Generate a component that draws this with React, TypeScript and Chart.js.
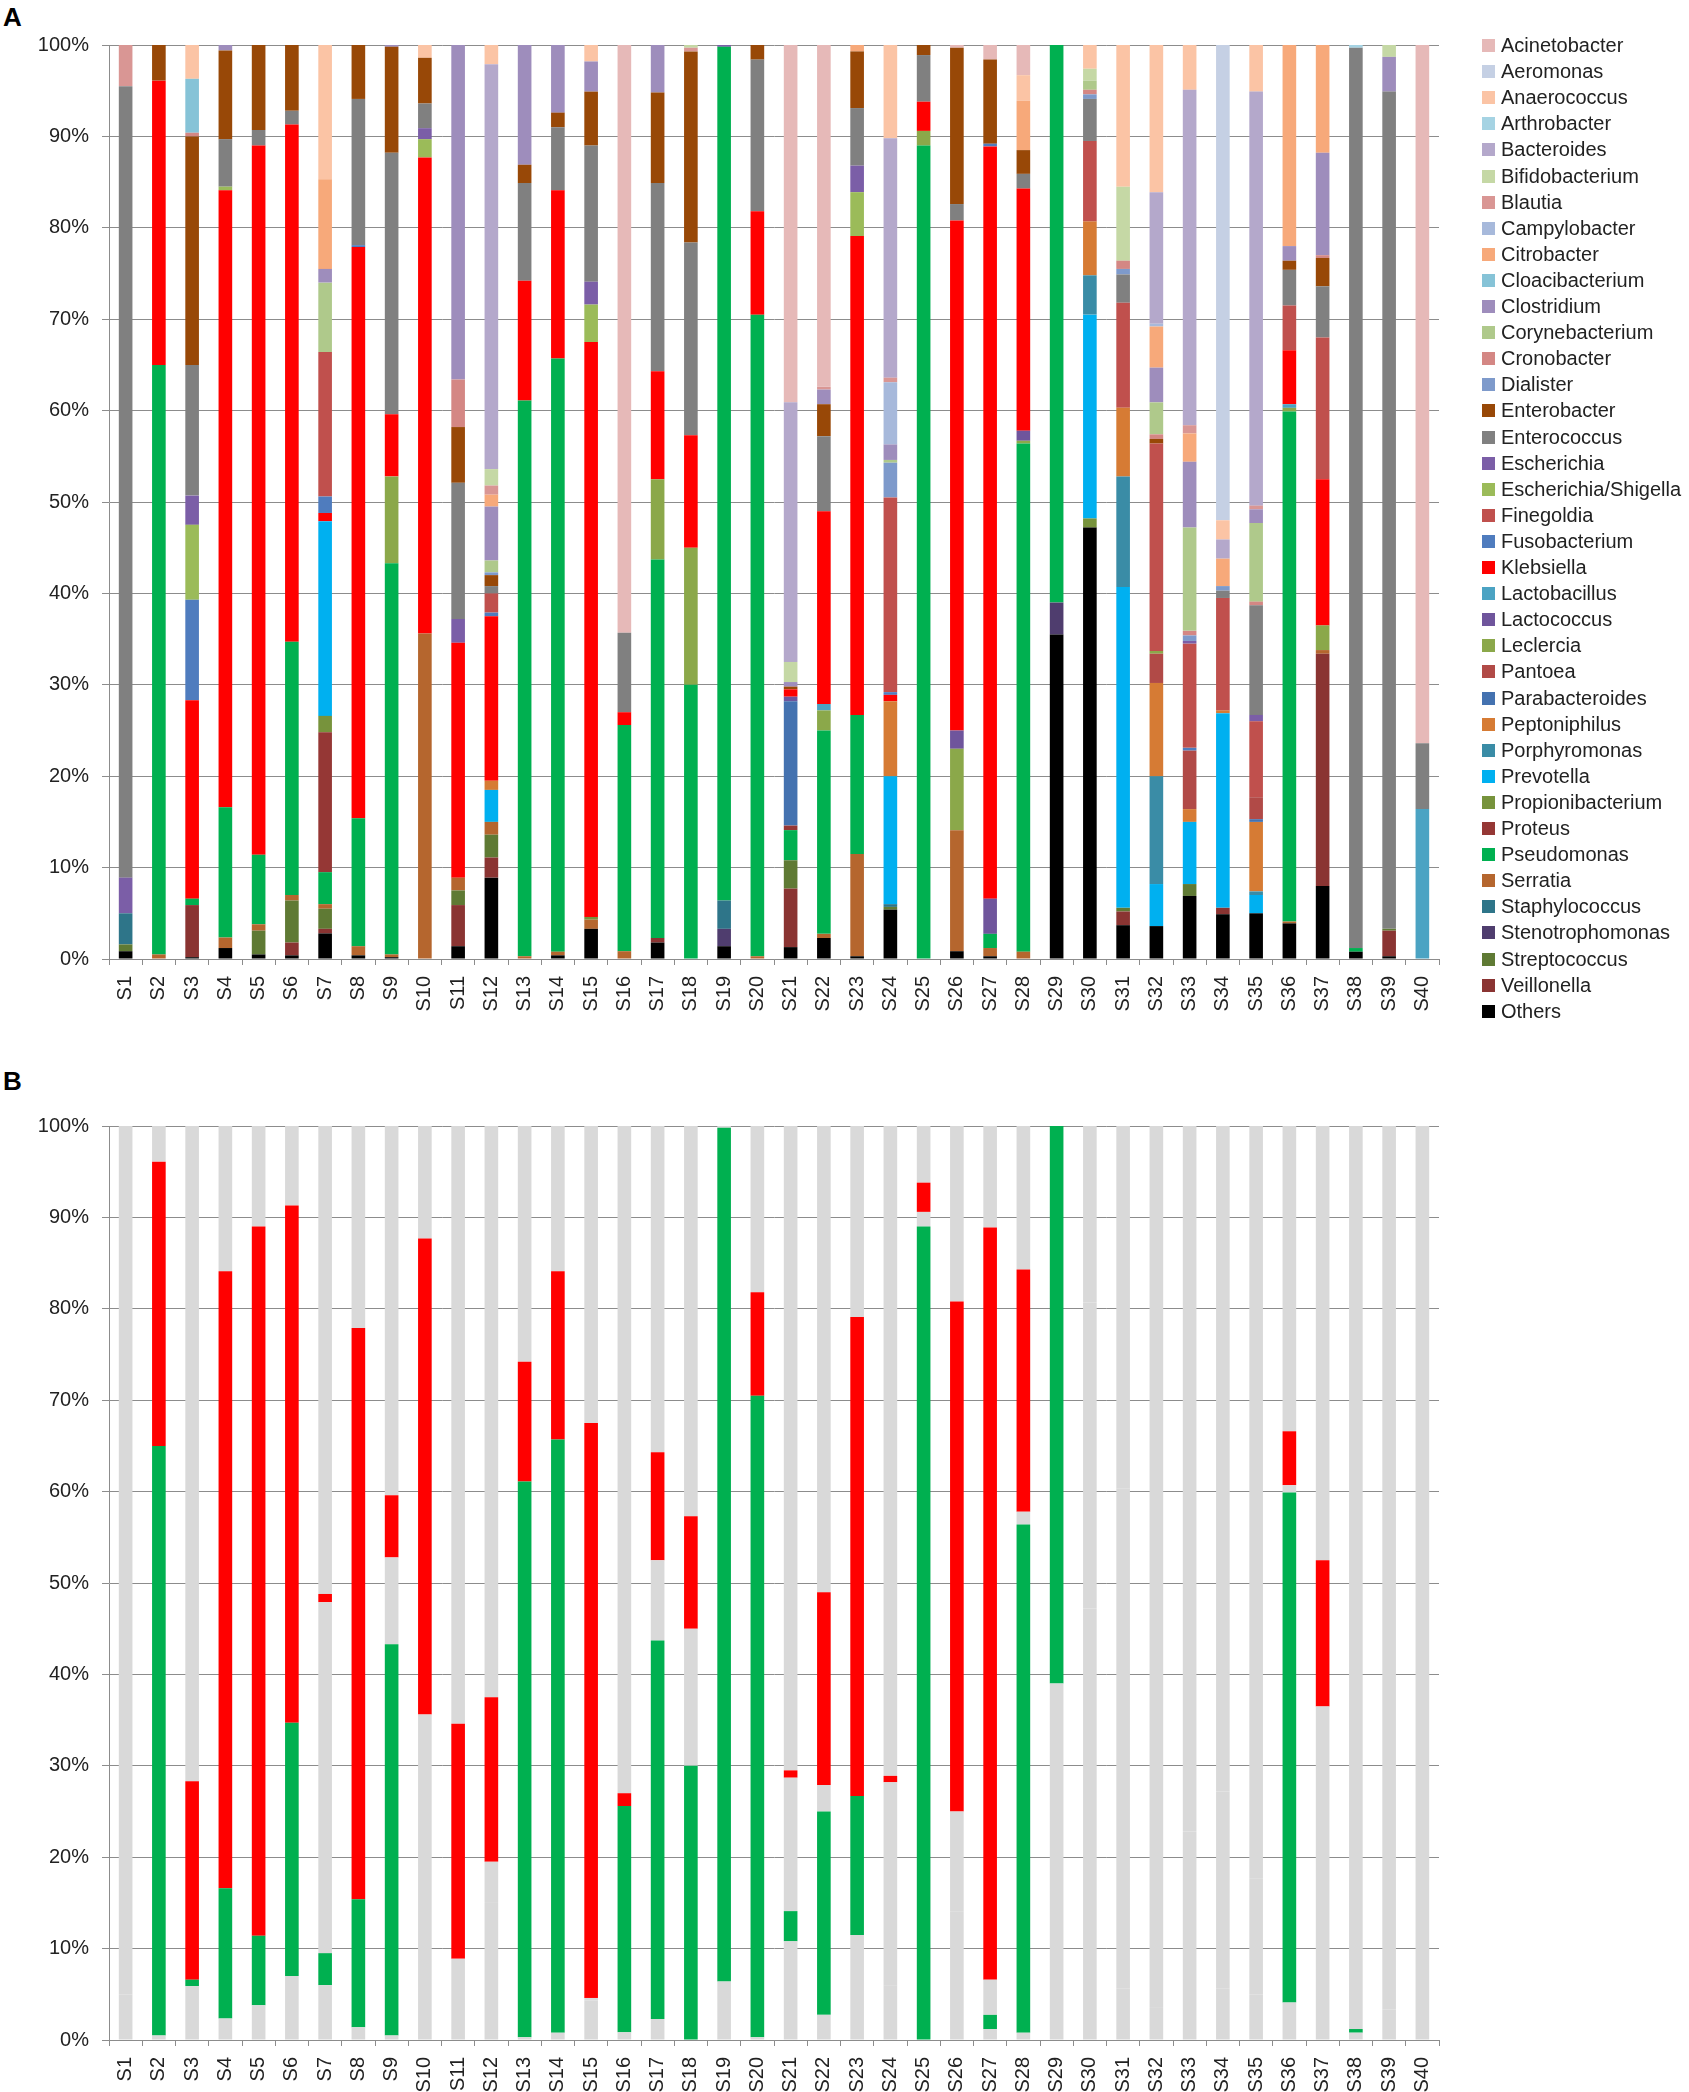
import React, { useEffect, useRef } from "react";
import Chart from "chart.js/auto";

// samples S1..S40
const samples = [
  "S1", "S2", "S3", "S4", "S5", "S6", "S7", "S8", "S9", "S10",
  "S11", "S12", "S13", "S14", "S15", "S16", "S17", "S18", "S19", "S20",
  "S21", "S22", "S23", "S24", "S25", "S26", "S27", "S28", "S29", "S30",
  "S31", "S32", "S33", "S34", "S35", "S36", "S37", "S38", "S39", "S40",
];

const yTicks = [0, 10, 20, 30, 40, 50, 60, 70, 80, 90, 100];

// relative abundance (%) per genus, bottom of the stack first
const others = [0.85, 0, 0.2, 1.2, 0.5, 0.4, 2.8, 0.4, 0.2, 0, 1.4, 8.9, 0, 0.4, 3.3, 0, 1.8, 0, 1.4, 0, 1.3, 2.3, 0.3, 5.4, 0, 0.85, 0.3, 0, 35.5, 47.2, 3.7, 3.6, 6.9, 4.9, 5.0, 3.9, 8.0, 0.8, 0.3, 0];
const veillonella = [0, 0, 5.7, 0, 0, 1.4, 0.5, 0, 0, 0, 4.5, 2.2, 0, 0, 0, 0, 0.5, 0, 0, 0, 6.4, 0, 0, 0, 0, 0, 0, 0, 0, 0, 1.5, 0, 0, 0.7, 0, 0, 25.4, 0, 2.8, 0];
const streptococcus = [0.75, 0, 0, 0, 2.6, 4.6, 2.2, 0, 0, 0, 1.6, 2.5, 0, 0, 0, 0, 0, 0, 0, 0, 3.1, 0, 0, 0.3, 0, 0, 0, 0, 0, 0, 0.4, 0, 1.3, 0, 0, 0, 0, 0, 0.2, 0];
const stenotrophomonas = [0, 0, 0, 0, 0, 0, 0, 0, 0, 0, 0, 0, 0, 0, 0, 0, 0, 0, 1.9, 0, 0, 0, 0, 0, 0, 0, 0, 0, 3.5, 0, 0, 0, 0, 0, 0, 0, 0, 0, 0, 0];
const staphylococcus = [3.4, 0, 0, 0, 0, 0, 0, 0, 0, 0, 0, 0, 0, 0, 0, 0, 0, 0, 3.1, 0, 0, 0, 0, 0.3, 0, 0, 0, 0, 0, 0, 0, 0, 0, 0, 0, 0, 0, 0, 0, 0];
const serratia = [0, 0.5, 0, 1.15, 0.7, 0.6, 0.5, 1.0, 0.3, 35.6, 1.4, 1.4, 0.3, 0.4, 1.0, 0.85, 0, 0, 0, 0.3, 0, 0.45, 11.2, 0, 0, 13.25, 0.9, 0.8, 0, 0, 0, 0, 0, 0, 0, 0.2, 0.4, 0, 0, 0];
const pseudomonas = [0, 64.5, 0.7, 14.25, 7.6, 27.7, 3.5, 14.0, 42.8, 0, 0, 0, 60.8, 64.9, 0, 24.75, 41.4, 30.0, 93.4, 70.2, 3.3, 22.25, 15.2, 0, 89.0, 0, 1.55, 55.6, 61.0, 0, 0, 0, 0, 0, 0, 55.8, 0, 0.4, 0, 0];
const proteus = [0, 0, 0, 0, 0, 0, 15.3, 0, 0, 0, 0, 0, 0, 0, 0, 0, 0, 0, 0, 0, 0.5, 0, 0, 0, 0, 0, 0, 0, 0, 0, 0, 0, 0, 0, 0, 0, 0, 0, 0, 0];
const propionibacterium = [0, 0, 0, 0, 0, 0, 1.8, 0, 0, 0, 0, 0, 0, 0, 0.3, 0, 0, 0, 0, 0, 0, 0, 0, 0, 0, 0, 0, 0, 0, 1.0, 0, 0, 0, 0, 0, 0, 0, 0, 0, 0];
const prevotella = [0, 0, 0, 0, 0, 0, 21.3, 0, 0, 0, 0, 3.5, 0, 0, 0, 0, 0, 0, 0, 0, 0, 0, 0, 14.0, 0, 0, 0, 0, 0, 22.3, 35.1, 4.6, 6.8, 21.3, 2.0, 0, 0, 0, 0, 0];
const porphyromonas = [0, 0, 0, 0, 0, 0, 0, 0, 0, 0, 0, 0, 0, 0, 0, 0, 0, 0, 0, 0, 0, 0, 0, 0, 0, 0, 0, 0, 0, 4.3, 12.1, 11.8, 0, 0, 0.4, 0, 0, 0, 0, 0];
const peptoniphilus = [0, 0, 0, 0, 0, 0, 0, 0, 0, 0, 0, 1.0, 0, 0, 0, 0, 0, 0, 0, 0, 0, 0, 0, 8.2, 0, 0, 0, 0, 0, 5.9, 7.5, 10.2, 1.4, 0.3, 7.6, 0, 0, 0, 0, 0];
const parabacteroides = [0, 0, 0, 0, 0, 0, 0, 0, 0, 0, 0, 0, 0, 0, 0, 0, 0, 0, 0, 0, 13.6, 0, 0, 0, 0, 0, 0, 0, 0, 0, 0, 0, 0, 0, 0.3, 0, 0, 0, 0, 0];
const pantoea = [0, 0, 0, 0, 0, 0, 0, 0, 0, 0, 0, 0, 0, 0, 0, 0, 0, 0, 0, 0, 0, 0, 0, 0, 0, 0, 0, 0, 0, 0, 0, 3.2, 6.4, 0, 2.4, 0, 0, 0, 0, 0];
const leclercia = [0, 0, 0, 0, 0, 0, 0, 0, 9.5, 0, 0, 0, 0, 0, 0, 0, 8.8, 15.0, 0, 0, 0, 2.2, 0, 0, 1.6, 8.9, 0, 0.3, 0, 0, 0, 0.3, 0, 0, 0, 0.4, 2.7, 0, 0, 0];
const lactococcus = [0, 0, 0, 0, 0, 0, 0, 0, 0, 0, 0, 0, 0, 0, 0, 0, 0, 0, 0, 0, 0.5, 0, 0, 0, 0, 2.0, 3.85, 1.1, 0, 0, 0, 0, 0, 0, 0, 0, 0, 0, 0, 0];
const lactobacillus = [0, 0, 0, 0, 0, 0, 0, 0, 0, 0, 0, 0, 0, 0, 0, 0, 0, 0, 0, 0, 0, 0.7, 0, 0, 0, 0, 0, 0, 0, 0, 0, 0, 0, 0, 0, 0.4, 0, 0, 0, 16.4];
const klebsiella = [0, 31.1, 21.7, 67.5, 77.6, 56.6, 0.9, 62.5, 6.8, 52.1, 25.7, 18.0, 13.1, 18.4, 62.9, 1.4, 11.8, 12.3, 0, 11.3, 0.8, 21.1, 52.4, 0.7, 3.2, 55.8, 82.3, 26.5, 0, 0, 0, 0, 0, 0, 0, 5.9, 16.0, 0, 0, 0];
const fusobacterium = [0, 0, 11.0, 0, 0, 0, 1.8, 0.2, 0, 0, 0, 0.4, 0, 0, 0, 0, 0, 0, 0, 0, 0, 0, 0, 0.3, 0, 0, 0.3, 0, 0, 0, 0, 0, 0.3, 0, 0, 0, 0, 0, 0, 0];
const finegoldia = [0, 0, 0, 0, 0, 0, 15.8, 0, 0, 0, 0, 2.1, 0, 0, 0, 0, 0, 0, 0, 0, 0, 0, 0, 21.3, 0, 0, 0, 0, 0, 8.8, 11.5, 22.7, 11.4, 12.3, 8.3, 4.9, 15.5, 0, 0, 0];
const escherichiaShigella = [0, 0, 8.2, 0.4, 0, 0, 0, 0, 0, 2.0, 0, 0, 0, 0, 4.1, 0, 0, 0, 0, 0, 0, 0, 4.8, 0, 0, 0, 0, 0, 0, 0, 0, 0, 0, 0, 0, 0, 0, 0, 0, 0];
const escherichia = [3.9, 0, 3.2, 0, 0, 0, 0, 0, 0, 1.2, 2.6, 0, 0, 0, 2.5, 0, 0, 0, 0.2, 0, 0, 0, 2.9, 0, 0, 0, 0, 0, 0, 0, 0, 0, 0.3, 0, 0.7, 0, 0, 0, 0, 0];
const enterococcus = [86.6, 0, 14.3, 5.2, 1.7, 1.5, 0, 16.0, 28.6, 2.7, 14.9, 0.8, 10.7, 6.9, 14.9, 8.7, 20.6, 21.1, 0, 16.6, 0, 8.2, 6.3, 0, 5.1, 1.8, 0, 1.6, 0, 4.6, 3.1, 0, 0, 0.8, 12.0, 3.9, 5.6, 98.5, 91.6, 7.2];
const enterobacter = [0, 3.9, 25.0, 9.7, 9.3, 7.2, 0, 5.9, 11.6, 5.0, 6.1, 1.2, 2.0, 1.6, 5.9, 0, 9.9, 20.9, 0, 1.6, 0.3, 3.5, 6.2, 0, 1.1, 17.1, 9.2, 2.6, 0, 0, 0, 0.5, 0, 0, 0, 1.0, 3.1, 0, 0, 0];
const dialister = [0, 0, 0, 0, 0, 0, 0, 0, 0, 0, 0, 0.3, 0, 0, 0, 0, 0, 0, 0, 0, 0, 0, 0, 3.8, 0, 0, 0, 0, 0, 0.5, 0.6, 0, 0.6, 0.5, 0, 0, 0, 0, 0, 0];
const cronobacter = [0, 0, 0.4, 0, 0, 0, 0, 0, 0, 0, 5.2, 0, 0, 0, 0, 0, 0, 0, 0, 0, 0, 0, 0, 0, 0, 0, 0, 0, 0, 0.5, 0.9, 0.5, 0.5, 0, 0.4, 0, 0.3, 0, 0, 0];
const corynebacterium = [0, 0, 0, 0, 0, 0, 7.6, 0, 0, 0, 0, 1.3, 0, 0, 0, 0, 0, 0, 0, 0, 0, 0, 0, 0.3, 0, 0, 0, 0, 0, 1.0, 0, 3.5, 11.3, 0, 8.6, 0, 0, 0, 0, 0];
const clostridium = [0, 0, 0, 0.6, 0, 0, 1.5, 0, 0.2, 0, 36.6, 5.9, 13.1, 7.4, 3.3, 0, 5.2, 0, 0, 0, 0.5, 1.6, 0, 1.7, 0, 0, 0, 0, 0, 0, 0, 3.8, 7.2, 0, 1.5, 1.6, 11.2, 0, 3.8, 0];
const cloacibacterium = [0, 0, 5.9, 0, 0, 0, 0, 0, 0, 0, 0, 0, 0, 0, 0, 0, 0, 0, 0, 0, 0, 0, 0, 0, 0, 0, 0, 0, 0, 0, 0, 0, 0, 0, 0, 0, 0, 0, 0, 0];
const citrobacter = [0, 0, 0, 0, 0, 0, 9.8, 0, 0, 0, 0, 1.3, 0, 0, 0, 0, 0, 0, 0, 0, 0, 0, 0.7, 0, 0, 0, 0, 5.4, 0, 0, 0, 4.5, 3.1, 3.0, 0, 22.0, 11.8, 0, 0, 0];
const campylobacter = [0, 0, 0, 0, 0, 0, 0, 0, 0, 0, 0, 0, 0, 0, 0, 0, 0, 0, 0, 0, 0, 0, 0, 6.8, 0, 0, 0, 0, 0, 0, 0, 0.3, 0, 0, 0, 0, 0, 0, 0, 0];
const blautia = [4.5, 0, 0, 0, 0, 0, 0, 0, 0, 0, 0, 1.0, 0, 0, 0, 0, 0, 0.4, 0, 0, 0, 0.3, 0, 0.5, 0, 0, 0, 0, 0, 0, 0, 0, 0.9, 0, 0.4, 0, 0, 0, 0, 0];
const bifidobacterium = [0, 0, 0, 0, 0, 0, 0, 0, 0, 0, 0, 1.8, 0, 0, 0, 0, 0, 0.3, 0, 0, 2.2, 0, 0, 0, 0, 0, 0, 0, 0, 1.3, 8.1, 0, 0, 0, 0, 0, 0, 0, 1.3, 0];
const bacteroides = [0, 0, 0, 0, 0, 0, 0, 0, 0, 0, 0, 44.3, 0, 0, 0, 0, 0, 0, 0, 0, 28.4, 0, 0, 26.2, 0, 0, 0, 0, 0, 0, 0, 14.4, 36.7, 2.1, 45.3, 0, 0, 0, 0, 0];
const arthrobacter = [0, 0, 0, 0, 0, 0, 0, 0, 0, 0, 0, 0, 0, 0, 0, 0, 0, 0, 0, 0, 0, 0, 0, 0, 0, 0, 0, 0, 0, 0, 0, 0, 0, 0, 0, 0, 0, 0.3, 0, 0];
const anaerococcus = [0, 0, 3.7, 0, 0, 0, 14.7, 0, 0, 1.4, 0, 2.1, 0, 0, 1.8, 0, 0, 0, 0, 0, 0, 0, 0, 10.2, 0, 0, 0, 2.8, 0, 2.6, 15.5, 16.1, 4.9, 2.1, 5.1, 0, 0, 0, 0, 0];
const aeromonas = [0, 0, 0, 0, 0, 0, 0, 0, 0, 0, 0, 0, 0, 0, 0, 0, 0, 0, 0, 0, 0, 0, 0, 0, 0, 0, 0, 0, 0, 0, 0, 0, 0, 52.0, 0, 0, 0, 0, 0, 0];
const acinetobacter = [0, 0, 0, 0, 0, 0, 0, 0, 0, 0, 0, 0, 0, 0, 0, 64.3, 0, 0, 0, 0, 39.1, 37.4, 0, 0, 0, 0.3, 1.6, 3.3, 0, 0, 0, 0, 0, 0, 0, 0, 0, 0, 0, 76.4];

// stack order (bottom -> top): name, values, colour
const genera: [string, number[], string][] = [
  ["Others", others, "#000000"],
  ["Veillonella", veillonella, "#8a3432"],
  ["Streptococcus", streptococcus, "#5f7a34"],
  ["Stenotrophomonas", stenotrophomonas, "#4f3d6e"],
  ["Staphylococcus", staphylococcus, "#2e7589"],
  ["Serratia", serratia, "#b5662e"],
  ["Pseudomonas", pseudomonas, "#00b050"],
  ["Proteus", proteus, "#953735"],
  ["Propionibacterium", propionibacterium, "#77933c"],
  ["Prevotella", prevotella, "#00b0f0"],
  ["Porphyromonas", porphyromonas, "#3a8ca6"],
  ["Peptoniphilus", peptoniphilus, "#d67b34"],
  ["Parabacteroides", parabacteroides, "#4472b0"],
  ["Pantoea", pantoea, "#b14a47"],
  ["Leclercia", leclercia, "#8ba84a"],
  ["Lactococcus", lactococcus, "#6f559c"],
  ["Lactobacillus", lactobacillus, "#4ba3c3"],
  ["Klebsiella", klebsiella, "#ff0000"],
  ["Fusobacterium", fusobacterium, "#4f7cbe"],
  ["Finegoldia", finegoldia, "#c0504d"],
  ["Escherichia/Shigella", escherichiaShigella, "#9bbb59"],
  ["Escherichia", escherichia, "#7b5ea7"],
  ["Enterococcus", enterococcus, "#808080"],
  ["Enterobacter", enterobacter, "#984807"],
  ["Dialister", dialister, "#7e9acb"],
  ["Cronobacter", cronobacter, "#d48784"],
  ["Corynebacterium", corynebacterium, "#afc98b"],
  ["Clostridium", clostridium, "#9e8dbc"],
  ["Cloacibacterium", cloacibacterium, "#86c3d7"],
  ["Citrobacter", citrobacter, "#f7a97a"],
  ["Campylobacter", campylobacter, "#a7b9db"],
  ["Blautia", blautia, "#d99694"],
  ["Bifidobacterium", bifidobacterium, "#c5d8a5"],
  ["Bacteroides", bacteroides, "#b4a8cb"],
  ["Arthrobacter", arthrobacter, "#a5d3e3"],
  ["Anaerococcus", anaerococcus, "#fbc4a5"],
  ["Aeromonas", aeromonas, "#c5d0e4"],
  ["Acinetobacter", acinetobacter, "#e6b9b8"],
];

const FONT = '"Liberation Sans", Arial, sans-serif';
const AXIS = "#8c8c8c";
const TEXT = "#222222";
const PLOT_LEFT = 109;
const PLOT_RIGHT = 1439;
const PAGE_W = 1689;

// panel B: genera below Pseudomonas, between Pseudomonas and Klebsiella, above Klebsiella
const iPseudo = genera.findIndex((g) => g[0] === "Pseudomonas");
const iKleb = genera.findIndex((g) => g[0] === "Klebsiella");
const sumRange = (from: number, to: number) =>
  samples.map((_, s) => genera.slice(from, to).reduce((acc, g) => acc + g[1][s], 0));
const restBelow = sumRange(0, iPseudo);
const restMiddle = sumRange(iPseudo + 1, iKleb);
const restAbove = sumRange(iKleb + 1, genera.length);

function makeOptions(padTop: number, xHeight: number): any {
  return {
    animation: false,
    responsive: false,
    layout: { padding: { top: padTop, right: PAGE_W - PLOT_RIGHT, bottom: 0, left: 0 } },
    plugins: { legend: { display: false }, tooltip: { enabled: false } },
    datasets: { bar: { barPercentage: 0.41, categoryPercentage: 1, borderWidth: 0 } },
    scales: {
      x: {
        stacked: true,
        grid: { display: true, drawOnChartArea: false, offset: true, tickLength: 6, color: AXIS },
        border: { color: AXIS },
        ticks: { minRotation: 90, maxRotation: 90, autoSkip: false, padding: 11, color: TEXT, font: { family: FONT, size: 20 } },
        afterFit: (s: any) => { s.height = xHeight; },
      },
      y: {
        stacked: true,
        min: 0,
        max: 100,
        afterBuildTicks: (s: any) => { s.ticks = yTicks.map((v) => ({ value: v })); },
        ticks: { padding: 13, color: TEXT, font: { family: FONT, size: 20 }, callback: (v: any) => v + "%" },
        grid: { color: AXIS, tickLength: 7 },
        border: { color: AXIS },
        afterFit: (s: any) => { s.width = PLOT_LEFT; },
      },
    },
  };
}

const App = () => {
  const refA = useRef<HTMLCanvasElement>(null);
  const refB = useRef<HTMLCanvasElement>(null);

  useEffect(() => {
    if (!refA.current) return;
    const chart = new Chart(refA.current, {
      type: "bar",
      data: {
        labels: samples,
        datasets: genera.map(([name, values, color]) => ({ label: name, data: values, backgroundColor: color })),
      },
      options: makeOptions(45, 81),
    });
    return () => chart.destroy();
  }, []);

  useEffect(() => {
    if (!refB.current) return;
    const chart = new Chart(refB.current, {
      type: "bar",
      data: {
        labels: samples,
        datasets: [
          { label: "Other", data: restBelow, backgroundColor: "#d9d9d9" },
          { label: "Pseudomonas", data: pseudomonas, backgroundColor: "#00b050" },
          { label: "Other", data: restMiddle, backgroundColor: "#d9d9d9" },
          { label: "Klebsiella", data: klebsiella, backgroundColor: "#ff0000" },
          { label: "Other", data: restAbove, backgroundColor: "#d9d9d9" },
        ],
      },
      options: makeOptions(86, 52),
    });
    return () => chart.destroy();
  }, []);

  const legendItems = [...genera].reverse();

  return (
    <div style={{ position: "absolute", left: 0, top: 0, width: PAGE_W, height: 2092, background: "#fff", overflow: "hidden", fontFamily: FONT }}>
      <div style={{ position: "absolute", left: 3, top: 2, fontSize: 26, fontWeight: "bold" }}>A</div>
      <canvas ref={refA} width={PAGE_W} height={1040} style={{ position: "absolute", left: 0, top: 0 }} />
      {legendItems.map(([name, , color], i) => (
        <div key={name} style={{ position: "absolute", left: 1482, top: 45.5 + i * 26.1 - 13, height: 26, display: "flex", alignItems: "center", fontSize: 20, color: TEXT, whiteSpace: "nowrap" }}>
          <span style={{ display: "inline-block", width: 13, height: 13, background: color, marginRight: 6 }} />
          {name}
        </div>
      ))}
      <div style={{ position: "absolute", left: 3, top: 1066, fontSize: 26, fontWeight: "bold" }}>B</div>
      <canvas ref={refB} width={PAGE_W} height={1052} style={{ position: "absolute", left: 0, top: 1040 }} />
    </div>
  );
};

export default App;
